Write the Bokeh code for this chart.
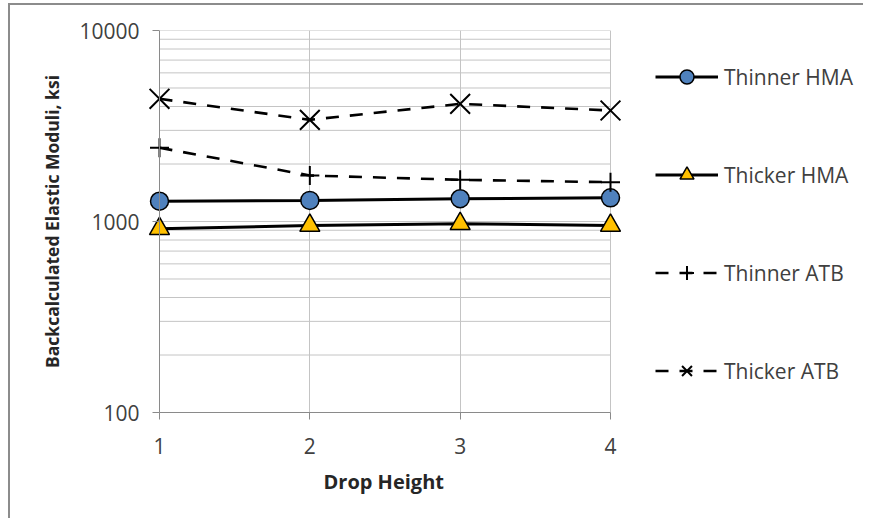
from bokeh.plotting import figure
from bokeh.models import (Legend, LegendItem, FixedTicker, Range1d, CustomJSTickFormatter,
                          Span, Title)
from bokeh.embed import file_html
from bokeh.resources import INLINE

# ---- data ----
drop_height = [1, 2, 3, 4]
thinner_hma = [1277, 1290, 1316, 1330]
thicker_hma = [916, 953, 973, 953]
thinner_atb = [2432, 1741, 1653, 1606]
thicker_atb = [4389, 3406, 4131, 3812]
x_ticks = [1, 2, 3, 4]
y_ticks = [100, 1000, 10000]
y_minor = [d * m for d in [100, 1000] for m in range(2, 10)]

FONT = "Open Sans"
GRID = "#c4c4c4"
AXIS = "#8a8a8a"
TXT = "#404040"

x_lo, x_hi = x_ticks[0], x_ticks[-1]
W, H = 855, 515
BL, BT, BB = 134, 25, 108          # borders around the frame (px)
frame_w = W - BL
px_per_unit = 451 / (x_hi - x_lo)  # data span 1..4 is 451 px wide
x_start = x_lo - 15 / px_per_unit  # room so edge markers are not clipped
x_end = x_start + frame_w / px_per_unit  # frame also hosts the legend

p = figure(width=W, height=H, y_axis_type="log", output_backend="svg",
           toolbar_location=None,
           x_range=Range1d(x_start, x_end), y_range=Range1d(y_ticks[0], y_ticks[-1]),
           min_border_left=BL, min_border_right=0,
           min_border_top=BT, min_border_bottom=BB)
p.styles = {"margin-left": "10px", "margin-top": "5px",
            "box-shadow": "-2px -2px 0 0 #8c8c8c"}
p.outline_line_color = None
p.background_fill_color = "white"

# gridlines limited to the data extent
p.ygrid.visible = False
grid_y = sorted(y_ticks + y_minor)
p.segment(x0=[x_lo] * len(grid_y), x1=[x_hi] * len(grid_y), y0=grid_y, y1=grid_y,
          line_color=GRID, line_width=1)
p.xgrid.grid_line_color = GRID
p.xgrid.ticker = FixedTicker(ticks=x_ticks)
p.add_layout(Span(location=x_lo, dimension="height", line_color=AXIS, line_width=1))

# axes
p.xaxis.ticker = FixedTicker(ticks=x_ticks)
p.yaxis.ticker = FixedTicker(ticks=y_ticks)
p.xaxis.bounds = (x_lo, x_hi)
for ax in (p.xaxis[0], p.yaxis[0]):
    ax.axis_line_color = AXIS
    ax.major_tick_line_color = AXIS
    ax.minor_tick_line_color = None
    ax.major_label_text_font = FONT
    ax.major_label_text_font_size = "21px"
    ax.major_label_text_color = TXT
    ax.axis_label_text_font = FONT
    ax.axis_label_text_font_style = "bold"
    ax.axis_label_text_color = "#262626"
p.xaxis.major_tick_in = 0
p.xaxis.major_tick_out = 7
p.yaxis.axis_line_color = None
p.yaxis.major_tick_in = 15
p.yaxis.major_tick_out = -8
p.yaxis.major_label_standoff = 5
p.yaxis.axis_label = "Backcalculated Elastic Moduli, ksi"
p.yaxis.axis_label_text_font_size = "17.5px"
p.yaxis.axis_label_standoff = 12
p.yaxis.formatter = CustomJSTickFormatter(code="return tick.toFixed(0);")
p.xaxis.major_label_standoff = 18

# x-axis title placed under the data extent (not the wider frame)
p.add_layout(Title(text="Drop Height", align="left", offset=15 + 164,
                   vertical_align="top", standoff=22,
                   text_font=FONT, text_font_size="20px", text_font_style="bold",
                   text_color="#262626"), "below")

# series
r1l = p.line(drop_height, thinner_hma, line_color="black", line_width=3)
r1m = p.scatter(drop_height, thinner_hma, marker="circle", size=18,
                fill_color="#4f81bd", line_color="black", line_width=1.5)
r2l = p.line(drop_height, thicker_hma, line_color="black", line_width=3)
r2m = p.scatter(drop_height, thicker_hma, marker="triangle", size=20,
                fill_color="#ffc000", line_color="black", line_width=1.5)
r3l = p.line(drop_height, thinner_atb, line_color="black", line_width=2.6,
             line_dash="13 11")
r3m = p.scatter(drop_height, thinner_atb, marker="cross", size=19,
                line_color="black", line_width=2)
r4l = p.line(drop_height, thicker_atb, line_color="black", line_width=2.6,
             line_dash="13 11")
r4m = p.scatter(drop_height, thicker_atb, marker="x", size=28,
                line_color="black", line_width=2)

legend = Legend(items=[
    LegendItem(label="Thinner HMA", renderers=[r1l, r1m]),
    LegendItem(label="Thicker HMA", renderers=[r2l, r2m]),
    LegendItem(label="Thinner ATB", renderers=[r3l, r3m]),
    LegendItem(label="Thicker ATB", renderers=[r4l, r4m]),
], location=(511, 24))
legend.glyph_width = 63
legend.glyph_height = 35
legend.label_height = 35
legend.spacing = 63
legend.padding = 0
legend.margin = 0
legend.label_standoff = 6
legend.border_line_alpha = 0
legend.background_fill_alpha = 0
legend.label_text_font = FONT
legend.label_text_font_size = "21px"
legend.label_text_color = TXT
p.add_layout(legend, "center")

open("out.html", "w").write(file_html(p, INLINE))
